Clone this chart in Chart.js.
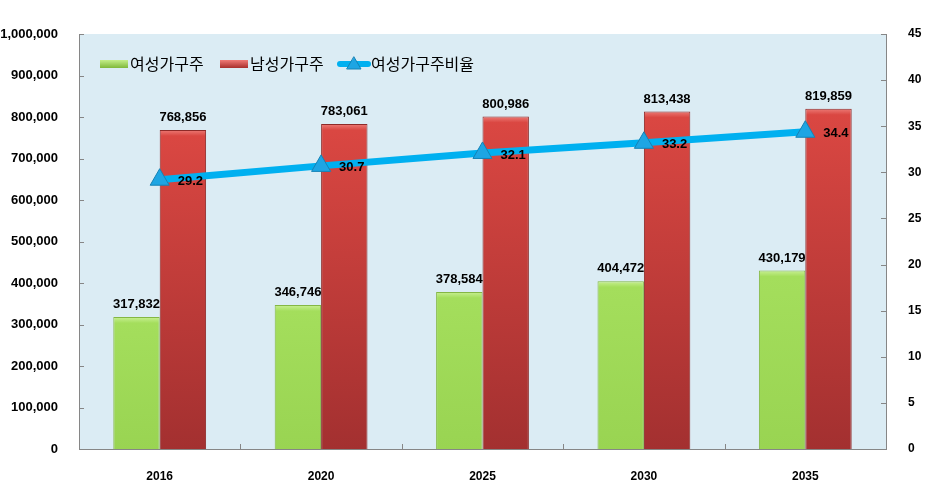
<!DOCTYPE html>
<html><head><meta charset="utf-8">
<script src="https://cdn.jsdelivr.net/npm/chart.js@4"></script>
<style>html,body{margin:0;padding:0;background:#fff}#wrap{width:946px;height:490px}</style>
</head><body><div id="wrap"><canvas id="c" width="946" height="490"></canvas></div>
<script>
const categories = ['2016','2020','2025','2030','2035'];
const femaleHeads = [317832, 346746, 378584, 404472, 430179];
const maleHeads = [768856, 783061, 800986, 813438, 819859];
const femaleRatio = [29.2, 30.7, 32.1, 33.2, 34.4];
const seriesNames = ['여성가구주', '남성가구주', '여성가구주비율'];

const fmt = v => v.toLocaleString('en-US');

function barGrad(ctx, capCol, topCol, botCol) {
  const chart = ctx.chart;
  if (!chart.chartArea || ctx.type !== 'data') return topCol;
  const y = chart.scales.y;
  const t = y.getPixelForValue(ctx.raw), b = y.getPixelForValue(0);
  const g = chart.ctx.createLinearGradient(0, t, 0, b);
  const f = Math.min(0.5, 6 / Math.max(1, b - t));
  g.addColorStop(0, capCol); g.addColorStop(f, topCol); g.addColorStop(1, botCol);
  return g;
}

const bgPlugin = {
  id: 'bg',
  beforeDraw(chart) {
    const {ctx, chartArea: a} = chart;
    ctx.save(); ctx.fillStyle = '#dbecf4';
    ctx.fillRect(a.left, a.top, a.right - a.left, a.bottom - a.top);
    ctx.restore();
  },
  afterDraw(chart) {
    const {ctx, chartArea: a, scales} = chart;
    ctx.save();
    ctx.strokeStyle = '#868686'; ctx.lineWidth = 1;
    ctx.beginPath();
    scales.y.ticks.forEach(t => { const p = Math.round(scales.y.getPixelForValue(t.value)) + 0.5; ctx.moveTo(a.left, p); ctx.lineTo(a.left + 5, p); });
    scales.y1.ticks.forEach(t => { const p = Math.round(scales.y1.getPixelForValue(t.value)) + 0.5; ctx.moveTo(a.right, p); ctx.lineTo(a.right - 5, p); });
    const n = categories.length;
    for (let i = 1; i < n; i++) {
      const p = Math.round((scales.x.getPixelForValue(i - 1) + scales.x.getPixelForValue(i)) / 2) + 0.5;
      ctx.moveTo(p, a.bottom); ctx.lineTo(p, a.bottom - 5);
    }
    ctx.stroke();
    // value labels
    ctx.fillStyle = '#000';
    ctx.font = 'bold 13px "Liberation Sans", Arial, sans-serif';
    ctx.textAlign = 'center'; ctx.textBaseline = 'bottom';
    [0, 1].forEach(di => {
      const meta = chart.getDatasetMeta(di);
      meta.data.forEach((el, i) => {
        ctx.fillText(fmt(chart.data.datasets[di].data[i]), el.x, el.y - 6);
      });
    });
    const lm = chart.getDatasetMeta(2);
    ctx.textAlign = 'left'; ctx.textBaseline = 'middle';
    lm.data.forEach((el, i) => {
      ctx.fillText(chart.data.datasets[2].data[i].toFixed(1), el.x + 18, el.y + 2);
    });
    // legend
    ctx.font = '16px "Noto Sans CJK KR", sans-serif';
    ctx.textAlign = 'left'; ctx.textBaseline = 'middle';
    const ly = 64;
    let x = a.left + 21;
    let g = ctx.createLinearGradient(0, ly - 4, 0, ly + 4);
    g.addColorStop(0, '#c4ee8a'); g.addColorStop(1, '#7fb83a');
    ctx.fillStyle = g; ctx.fillRect(x, ly - 4, 28, 8);
    ctx.fillStyle = '#000'; ctx.fillText(seriesNames[0], x + 30, ly);
    x = a.left + 141;
    g = ctx.createLinearGradient(0, ly - 4, 0, ly + 4);
    g.addColorStop(0, '#f07a76'); g.addColorStop(1, '#a82f2c');
    ctx.fillStyle = g; ctx.fillRect(x, ly - 4, 28, 8);
    ctx.fillStyle = '#000'; ctx.fillText(seriesNames[1], x + 30, ly);
    x = a.left + 259;
    ctx.strokeStyle = '#00b0f0'; ctx.lineWidth = 6; ctx.lineCap = 'round';
    ctx.beginPath(); ctx.moveTo(x + 2, ly); ctx.lineTo(x + 30, ly); ctx.stroke();
    ctx.fillStyle = '#1ea5e3'; ctx.strokeStyle = '#1582b5'; ctx.lineWidth = 1;
    ctx.beginPath(); ctx.moveTo(x + 16, ly - 7); ctx.lineTo(x + 23, ly + 5); ctx.lineTo(x + 9, ly + 5); ctx.closePath(); ctx.fill(); ctx.stroke();
    ctx.fillStyle = '#000'; ctx.fillText(seriesNames[2], x + 33, ly);
    ctx.restore();
  }
};

const tickFont = {family: '"Liberation Sans", Arial, sans-serif', size: 13, weight: 'bold'};

new Chart(document.getElementById('c'), {
  data: {
    labels: categories,
    datasets: [
      { type: 'bar', label: seriesNames[0], data: femaleHeads, yAxisID: 'y', order: 1,
        backgroundColor: c => barGrad(c, '#c8f093', '#a4de5c', '#99d452'), borderColor: '#84b744', borderWidth: 1,
        categoryPercentage: 0.575, barPercentage: 1.0 },
      { type: 'bar', label: seriesNames[1], data: maleHeads, yAxisID: 'y', order: 2,
        backgroundColor: c => barGrad(c, '#ec7a75', '#da4742', '#a33030'), borderColor: '#8e2a28', borderWidth: 1,
        categoryPercentage: 0.575, barPercentage: 1.0 },
      { type: 'line', label: seriesNames[2], data: femaleRatio, yAxisID: 'y1', order: 0,
        borderColor: '#00b0f0', borderWidth: 7, pointStyle: 'triangle', pointRadius: 11,
        pointBackgroundColor: '#1ea5e3', pointBorderColor: '#1582b5', pointBorderWidth: 1, tension: 0 }
    ]
  },
  options: {
    responsive: false, animation: false, devicePixelRatio: 1,
    layout: { padding: { left: 0, right: 0, top: 34, bottom: 0 } },
    plugins: { legend: { display: false }, tooltip: { enabled: false } },
    scales: {
      x: {
        grid: { display: false, offset: true }, border: { color: '#868686' },
        ticks: { font: {...tickFont, size: 12}, color: '#000', padding: 12 },
        afterFit: s => { s.height = 41; }
      },
      y: {
        position: 'left', min: 0, max: 1000000,
        grid: { display: false }, border: { color: '#868686' },
        ticks: { stepSize: 100000, font: tickFont, color: '#000', padding: 13, callback: v => fmt(v) },
        afterFit: s => { s.width = 79; }
      },
      y1: {
        position: 'right', min: 0, max: 45,
        grid: { display: false }, border: { color: '#868686' },
        ticks: { stepSize: 5, font: {...tickFont, size: 12}, color: '#000', padding: 14 },
        afterFit: s => { s.width = 60; }
      }
    }
  },
  plugins: [bgPlugin]
});
</script></body></html>
